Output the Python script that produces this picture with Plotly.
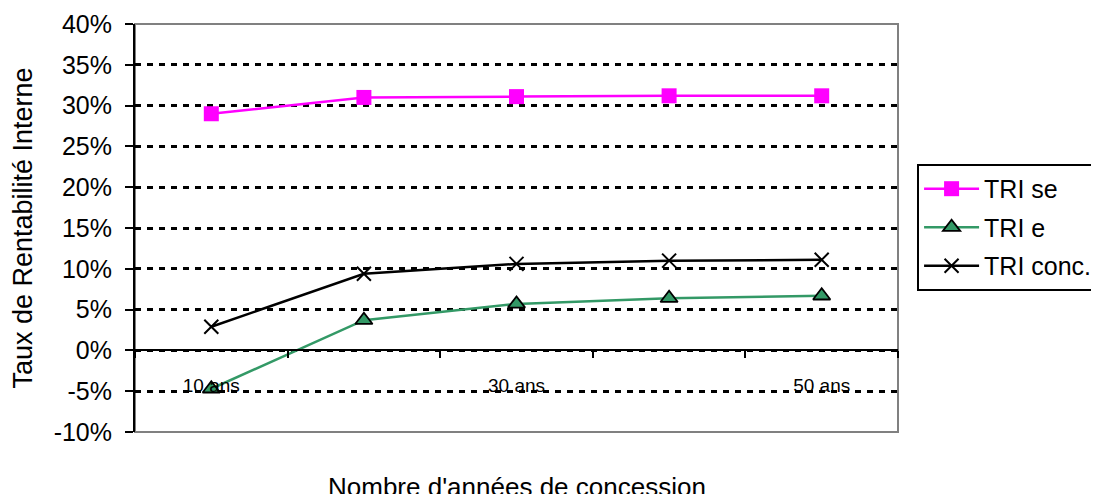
import plotly.graph_objects as go

categories = ["10 ans", "20 ans", "30 ans", "40 ans", "50 ans"]
tick_labels = ["10 ans", "", "30 ans", "", "50 ans"]
tri_se = [0.290, 0.310, 0.311, 0.312, 0.312]
tri_e = [-0.047, 0.037, 0.057, 0.064, 0.067]
tri_conc = [0.029, 0.094, 0.106, 0.110, 0.111]
y_ticks = [-0.10, -0.05, 0.0, 0.05, 0.10, 0.15, 0.20, 0.25, 0.30, 0.35, 0.40]
y_tick_labels = ["-10%", "-5%", "0%", "5%", "10%", "15%", "20%", "25%", "30%", "35%", "40%"]

fig = go.Figure()
fig.add_trace(go.Scatter(x=categories, y=tri_se, name="TRI se", mode="lines+markers",
                         line=dict(color="#FF00FF", width=2.5),
                         marker=dict(symbol="square", size=15, color="#FF00FF"),
                         legendgroup="a"))
fig.add_trace(go.Scatter(x=categories, y=tri_e, name="TRI e", mode="lines+markers",
                         line=dict(color="#339966", width=2.5),
                         marker=dict(symbol="triangle-up", size=15, color="#339966",
                                     line=dict(color="black", width=1.8)),
                         legendgroup="b"))
fig.add_trace(go.Scatter(x=categories, y=tri_conc, name="TRI conc.", mode="lines+markers",
                         line=dict(color="black", width=2.5),
                         marker=dict(symbol="x-thin", size=14, color="black",
                                     line=dict(color="black", width=2)),
                         legendgroup="c"))

# page body adds an 8px offset, so the figure is a bit smaller than the window
fig.update_layout(
    width=1091, height=486,
    margin=dict(l=127, r=201, t=16, b=62, autoexpand=False),
    plot_bgcolor="white", paper_bgcolor="white",
    font=dict(family="Liberation Sans, Arial", color="black", size=24),
    showlegend=True,
    legend=dict(x=1.025, y=0.657, xanchor="left", yanchor="top",
                bordercolor="black", borderwidth=2, bgcolor="white",
                font=dict(size=25), tracegroupgap=3, itemwidth=55),
)
fig.update_xaxes(
    type="category", range=[-0.5, len(categories) - 0.5],
    anchor="free", position=0.2, automargin=False,
    showline=True, linecolor="black", linewidth=2,
    ticks="outside", tickson="boundaries", ticklen=7, tickwidth=2, tickcolor="black",
    tickvals=categories, ticktext=tick_labels, tickfont=dict(size=19),
    ticklabelstandoff=18,
    showgrid=False, zeroline=False,
)
fig.update_yaxes(
    range=[-0.10, 0.40], tickvals=y_ticks, ticktext=y_tick_labels, automargin=False,
    tickfont=dict(size=25),
    showline=True, linecolor="black", linewidth=2,
    ticks="outside", ticklen=8, tickwidth=2, tickcolor="black", ticklabelstandoff=8,
    showgrid=True, gridcolor="black", gridwidth=2.5, griddash="6px,6px",
    zeroline=False,
    title=dict(text="Taux de Rentabilité Interne", font=dict(size=27), standoff=14),
)
fig.add_shape(type="rect", xref="paper", yref="paper", x0=0, x1=1, y0=0, y1=1,
              line=dict(color="#808080", width=2), layer="below")
fig.add_annotation(text="Nombre d'années de concession", xref="paper", yref="paper",
                   x=0.5, y=-0.135, yanchor="middle", showarrow=False,
                   font=dict(size=26))

fig.write_html("out.html")
